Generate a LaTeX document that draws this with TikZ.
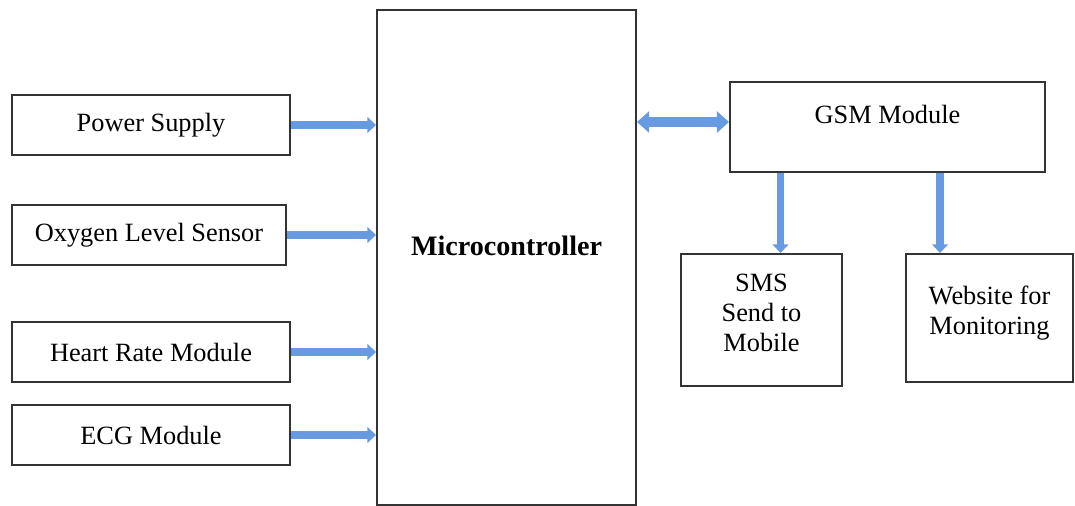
\documentclass[tikz,border=0pt]{standalone}
\usepackage{fontspec}
\setmainfont{Liberation Serif}
\usetikzlibrary{arrows.meta}
\definecolor{arrowblue}{RGB}{104,154,226}
\tikzset{
  blkbox/.style={draw=black!80, line width=1.1pt, fill=white, inner sep=0pt,
    font=\fontsize{15}{17}\selectfont, align=center},
  blktext/.style={font=\fontsize{15}{17}\selectfont, align=center},
  blkarrow/.style={draw=arrowblue, line width=4.2pt,
    -{Triangle[width=9pt,length=5pt]}},
  blkboth/.style={draw=arrowblue, line width=5.5pt,
    {Triangle[width=12pt,length=7pt]}-{Triangle[width=12pt,length=7pt]}},
}
\begin{document}
\begin{tikzpicture}[x=0.02cm,y=-0.02cm]
\useasboundingbox (0,0) rectangle (1075,506);
% inputs
\node[blkbox, minimum width=5.56cm, minimum height=1.2cm] (power) at (151,125) {Power Supply};
\node[blkbox, minimum width=5.48cm, minimum height=1.2cm] (oxygen) at (149,235) {Oxygen Level Sensor};
\node[blkbox, minimum width=5.56cm, minimum height=1.2cm] (heart) at (151,352) {Heart Rate Module};
\node[blkbox, minimum width=5.56cm, minimum height=1.2cm] (ecg) at (151,435) {ECG Module};
% controller
\node[blkbox, minimum width=5.18cm, minimum height=9.9cm] (micro) at (506.5,257.5) {};
\node[font=\fontsize{16}{18}\selectfont\bfseries] (microtxt) at (506.5,246) {Microcontroller};
% outputs
\node[blkbox, minimum width=6.3cm, minimum height=1.8cm] (gsm) at (887.5,127) {};
\node[blktext] (gsmtxt) at (887.5,114) {GSM Module};
\node[blkbox, minimum width=3.22cm, minimum height=2.64cm] (sms) at (761.5,320) {};
\node[blktext, anchor=north] (smstxt) at (761.5,268) {SMS\\Send to\\Mobile};
\node[blkbox, minimum width=3.34cm, minimum height=2.56cm] (web) at (989.5,318) {};
\node[blktext, anchor=north] (webtxt) at (989.5,280) {Website for\\Monitoring};
% connectors
\draw[blkarrow] (power.east) -- (power.east -| micro.west);
\draw[blkarrow] (oxygen.east) -- (oxygen.east -| micro.west);
\draw[blkarrow] (heart.east) -- (heart.east -| micro.west);
\draw[blkarrow] (ecg.east) -- (ecg.east -| micro.west);
\draw[blkboth] ([yshift=0.1cm]micro.east |- gsm.west) -- ([yshift=0.1cm]gsm.west);
\draw[blkarrow] ([xshift=0.38cm]sms.north |- gsm.south) -- ([xshift=0.38cm]sms.north);
\draw[blkarrow] ([xshift=-0.99cm]web.north |- gsm.south) -- ([xshift=-0.99cm]web.north);
\end{tikzpicture}
\end{document}
